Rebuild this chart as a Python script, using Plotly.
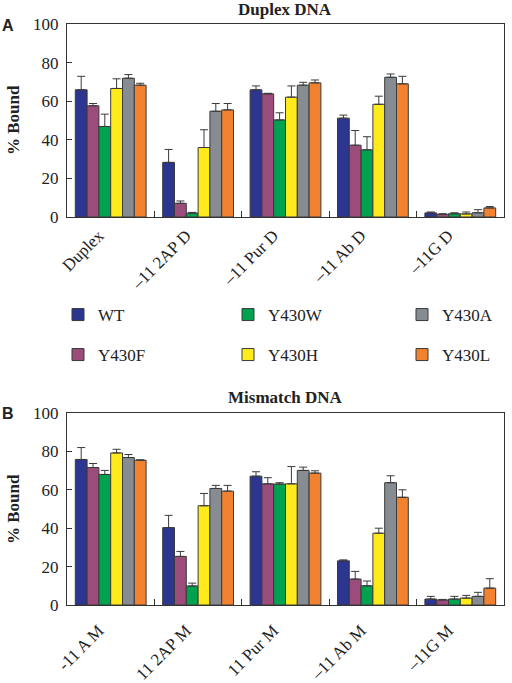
import plotly.graph_objects as go

# ---------------- data ----------------
series = ["WT", "Y430F", "Y430W", "Y430H", "Y430A", "Y430L"]
colors = ["#2c3590", "#9c4c7b", "#00a14f", "#ffea1c", "#878c93", "#f2822f"]
legend_slot = ["legend", "legend2", "legend3", "legend4", "legend5", "legend6"]

cats_a = ["Duplex", "\u201311 2AP D", "\u201311 Pur D", "\u201311 Ab D", "\u201311G D"]
cats_b = ["-11 A M", "11 2AP M", "11 Pur M", "\u201311 Ab M", "\u201311G M"]

# % bound (mean) per series, one value per category
vals_a = {
    "WT":    [65.9, 28.3, 65.9, 51.2, 2.1],
    "Y430F": [57.6, 7.1, 63.8, 37.2, 1.4],
    "Y430W": [46.9, 2.0, 50.3, 34.8, 1.7],
    "Y430H": [66.6, 36.0, 62.1, 58.4, 1.6],
    "Y430A": [71.9, 54.8, 68.3, 72.4, 2.2],
    "Y430L": [68.3, 55.5, 69.5, 69.0, 4.7],
}
err_a = {
    "WT":    [7.0, 6.7, 2.0, 1.6, 0.5],
    "Y430F": [1.2, 1.2, 0.3, 7.6, 0.3],
    "Y430W": [6.4, 0.4, 3.7, 6.8, 0.5],
    "Y430H": [5.0, 9.2, 5.8, 4.2, 1.0],
    "Y430A": [1.9, 4.0, 1.5, 1.7, 1.6],
    "Y430L": [1.0, 3.3, 1.5, 3.9, 0.7],
}
vals_b = {
    "WT":    [75.8, 40.3, 67.1, 23.0, 3.1],
    "Y430F": [71.6, 25.3, 63.1, 13.5, 2.6],
    "Y430W": [68.0, 9.9, 63.0, 10.0, 3.1],
    "Y430H": [79.2, 51.7, 63.1, 37.4, 3.6],
    "Y430A": [76.8, 60.7, 70.1, 63.7, 4.5],
    "Y430L": [75.4, 59.3, 68.7, 56.1, 8.8],
}
err_b = {
    "WT":    [6.2, 6.4, 2.3, 0.5, 1.4],
    "Y430F": [2.1, 2.6, 3.2, 4.0, 0.3],
    "Y430W": [2.1, 1.5, 0.7, 2.5, 1.4],
    "Y430H": [1.9, 6.4, 9.0, 2.6, 1.4],
    "Y430A": [1.6, 1.6, 1.7, 3.6, 2.1],
    "Y430L": [0.2, 3.0, 1.2, 3.9, 4.9],
}
y_ticks = [0, 20, 40, 60, 80, 100]

SERIF = "Liberation Serif, Times New Roman, serif"
SANS = "Liberation Sans, Arial, sans-serif"
INK = "#222222"
W, H = 512, 683

fig = go.Figure()
for i, s in enumerate(series):
    for panel, (cats, vals, errs, xa, ya) in enumerate([
        (cats_a, vals_a, err_a, "x", "y"),
        (cats_b, vals_b, err_b, "x2", "y2"),
    ]):
        fig.add_trace(go.Bar(
            x=cats, y=vals[s], name=s, xaxis=xa, yaxis=ya,
            marker=dict(color=colors[i], line=dict(color="#3a3a3a", width=1)),
            error_y=dict(type="data", array=errs[s], arrayminus=[0] * len(errs[s]),
                         symmetric=False, color="#3a3a3a", thickness=1, width=4),
            showlegend=(panel == 0), legend=legend_slot[i],
        ))

def px_x(p):
    return p / W

def px_y(p):
    return 1 - p / H

xdom = [px_x(67), px_x(504)]
axis_common = dict(showline=True, mirror=True, linecolor="#333333", linewidth=1)
xaxis_common = dict(axis_common, type="category", tickson="boundaries", ticks="inside",
                    ticklen=6, tickcolor="#333333", tickangle=-45, ticklabelshift=-12,
                    tickfont=dict(family=SERIF, size=17, color=INK),
                    domain=xdom, automargin=False, showgrid=False)
yaxis_common = dict(axis_common, range=[0, 100], tickvals=y_ticks, ticks="inside",
                    ticklen=5, tickcolor="#333333", showgrid=False, zeroline=False,
                    ticklabelstandoff=4,
                    tickfont=dict(family=SERIF, size=17, color=INK),
                    automargin=False)

def legend_at(xp, yp):
    return dict(orientation="v", xanchor="left", yanchor="middle",
                x=px_x(xp), y=px_y(yp),
                font=dict(family=SERIF, size=17, color=INK),
                bgcolor="rgba(0,0,0,0)", borderwidth=0)

# legend layout: columns (WT/Y430F), (Y430W/Y430H), (Y430A/Y430L)
legend_x = [58, 58, 228, 228, 402, 402]
legend_y = [315, 355, 315, 355, 315, 355]
legends = {}
for i, slot in enumerate(legend_slot):
    legends[slot] = legend_at(legend_x[i], legend_y[i])

def ann(text, xp, yp, family=SERIF, size=17, angle=0):
    return dict(text=text, x=px_x(xp), y=px_y(yp), xref="paper", yref="paper",
                xanchor="center", yanchor="middle", textangle=angle,
                showarrow=False, font=dict(family=family, size=size, color=INK))

fig.update_layout(
    width=W, height=H,
    margin=dict(l=0, r=0, t=0, b=0),
    paper_bgcolor="white", plot_bgcolor="white",
    barmode="group", bargap=0.19, bargroupgap=0,
    xaxis=dict(xaxis_common, anchor="y", ticklabelstandoff=1),
    yaxis=dict(yaxis_common, domain=[px_y(217), px_y(24)], anchor="x"),
    xaxis2=dict(xaxis_common, anchor="y2", ticklabelstandoff=8),
    yaxis2=dict(yaxis_common, domain=[px_y(605), px_y(413)], anchor="x2"),
    annotations=[
        ann("<b>Duplex DNA</b>", 285, 9),
        ann("<b>Mismatch DNA</b>", 285, 397),
        ann("<b>A</b>", 8, 25, family=SANS, size=16),
        ann("<b>B</b>", 8, 413, family=SANS, size=16),
        ann("<b>% Bound</b>", 13, 120, angle=-90),
        ann("<b>% Bound</b>", 13, 509, angle=-90),
    ],
    **legends,
)

fig.write_html("out.html", config={"displayModeBar": False})

# remove the default page margin so the figure sits at the window's corner
with open("out.html", "r", encoding="utf-8") as f:
    html = f.read()
html = html.replace("<head>", "<head><style>html,body{margin:0;padding:0;overflow:hidden;}</style>", 1)
with open("out.html", "w", encoding="utf-8") as f:
    f.write(html)
